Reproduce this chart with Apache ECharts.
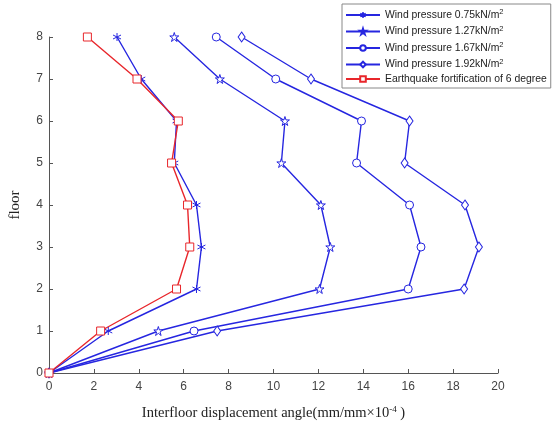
<!DOCTYPE html>
<html>
<head>
<meta charset="utf-8">
<script src="https://cdn.jsdelivr.net/npm/echarts@6/dist/echarts.min.js"></script>
<style>
  html, body { margin: 0; padding: 0; background: #fff; }
  #chart { width: 554px; height: 426px; }
</style>
</head>
<body>
<div id="chart"></div>
<script>
var floors = [0, 1, 2, 3, 4, 5, 6, 7, 8];
var wind075 = [0, 2.64, 6.57, 6.79, 6.57, 5.58, 5.68, 4.11, 3.03];
var wind127 = [0, 4.87, 12.05, 12.53, 12.11, 10.35, 10.51, 7.61, 5.58];
var wind167 = [0, 6.46, 16.0, 16.57, 16.06, 13.70, 13.92, 10.10, 7.45];
var wind192 = [0, 7.49, 18.49, 19.15, 18.53, 15.84, 16.06, 11.67, 8.58];
var quake6 = [0, 2.30, 5.68, 6.27, 6.17, 5.46, 5.76, 3.92, 1.71];
var xTicks = [0, 2, 4, 6, 8, 10, 12, 14, 16, 18, 20];
var yTicks = [0, 1, 2, 3, 4, 5, 6, 7, 8];

var BLUE = '#2626e0';
var RED = '#e8262b';

var asterisk = 'path://M0,-1L0,1M-0.87,-0.5L0.87,0.5M-0.87,0.5L0.87,-0.5';
var star = 'path://M0,-1L0.223,-0.307L0.951,-0.309L0.361,0.117L0.588,0.809L0,0.38L-0.588,0.809L-0.361,0.117L-0.951,-0.309L-0.223,-0.307Z';

function pairs(xs) {
    return xs.map(function (x, i) { return [x, floors[i]]; });
}

function makeSeries(name, xs, color, symbol, size) {
    return {
        name: name,
        type: 'line',
        data: pairs(xs),
        symbol: symbol,
        symbolSize: size,
        showAllSymbol: true,
        lineStyle: { color: color, width: 1.4 },
        itemStyle: { color: '#fff', borderColor: color, borderWidth: 1 },
        emphasis: { disabled: true },
        animation: false
    };
}

var option = {
    backgroundColor: '#fff',
    grid: { left: 46, right: 56, top: 37, bottom: 49 },
    legend: {
        orient: 'vertical',
        left: 342,
        top: 4,
        padding: [4, 4, 4, 3],
        itemWidth: 34,
        itemHeight: 7,
        itemGap: 4.5,
        borderColor: '#888',
        borderWidth: 1,
        backgroundColor: '#fff',
        formatter: function (name) {
            var parts = name.split('²');
            if (parts.length > 1) {
                return '{t|' + parts[0] + '}{sup|2}';
            }
            return '{t|' + name + '}';
        },
        textStyle: {
            fontFamily: 'Liberation Sans',
            fontSize: 10.4,
            color: '#222',
            rich: {
                t: { fontFamily: 'Liberation Sans', fontSize: 10.4, color: '#222', lineHeight: 12.7 },
                sup: { fontFamily: 'Liberation Sans', fontSize: 7.5, color: '#222', padding: [0, 0, 6, 0] }
            }
        },
        data: [
            'Wind pressure 0.75kN/m²',
            'Wind pressure 1.27kN/m²',
            'Wind pressure 1.67kN/m²',
            'Wind pressure 1.92kN/m²',
            'Earthquake fortification of 6 degree'
        ]
    },
    xAxis: {
        type: 'value',
        min: xTicks[0],
        max: xTicks[xTicks.length - 1],
        interval: 2,
        name: '{t|Interfloor displacement angle(mm/mm×10}{sup|-4}{t| )}',
        nameLocation: 'middle',
        nameGap: 32,
        nameTextStyle: {
            rich: {
                t: { fontFamily: 'Liberation Serif', fontSize: 14.5, color: '#222' },
                sup: { fontFamily: 'Liberation Serif', fontSize: 9, color: '#222', padding: [0, 0, 8, 0] }
            }
        },
        axisLine: { show: true, lineStyle: { color: '#555', width: 1 } },
        axisTick: { show: true, inside: true, length: 4, lineStyle: { color: '#555' } },
        axisLabel: { margin: 8, fontFamily: 'Liberation Sans', fontSize: 12, color: '#444' },
        splitLine: { show: false }
    },
    yAxis: {
        type: 'value',
        min: yTicks[0],
        max: yTicks[yTicks.length - 1],
        interval: 1,
        name: 'floor',
        nameLocation: 'middle',
        nameGap: 26,
        nameTextStyle: { fontFamily: 'Liberation Serif', fontSize: 15, color: '#222' },
        axisLine: { show: true, lineStyle: { color: '#555', width: 1 } },
        axisTick: { show: true, inside: true, length: 4, lineStyle: { color: '#555' } },
        axisLabel: { margin: 6, fontFamily: 'Liberation Sans', fontSize: 12, color: '#444' },
        splitLine: { show: false }
    },
    series: [
        makeSeries('Wind pressure 0.75kN/m²', wind075, BLUE, asterisk, 8),
        makeSeries('Wind pressure 1.27kN/m²', wind127, BLUE, star, 9),
        makeSeries('Wind pressure 1.67kN/m²', wind167, BLUE, 'circle', 8),
        makeSeries('Wind pressure 1.92kN/m²', wind192, BLUE, 'diamond', [7, 10]),
        makeSeries('Earthquake fortification of 6 degree', quake6, RED, 'rect', 8)
    ]
};

var myChart = echarts.init(document.getElementById('chart'));
myChart.setOption(option);
</script>
</body>
</html>
